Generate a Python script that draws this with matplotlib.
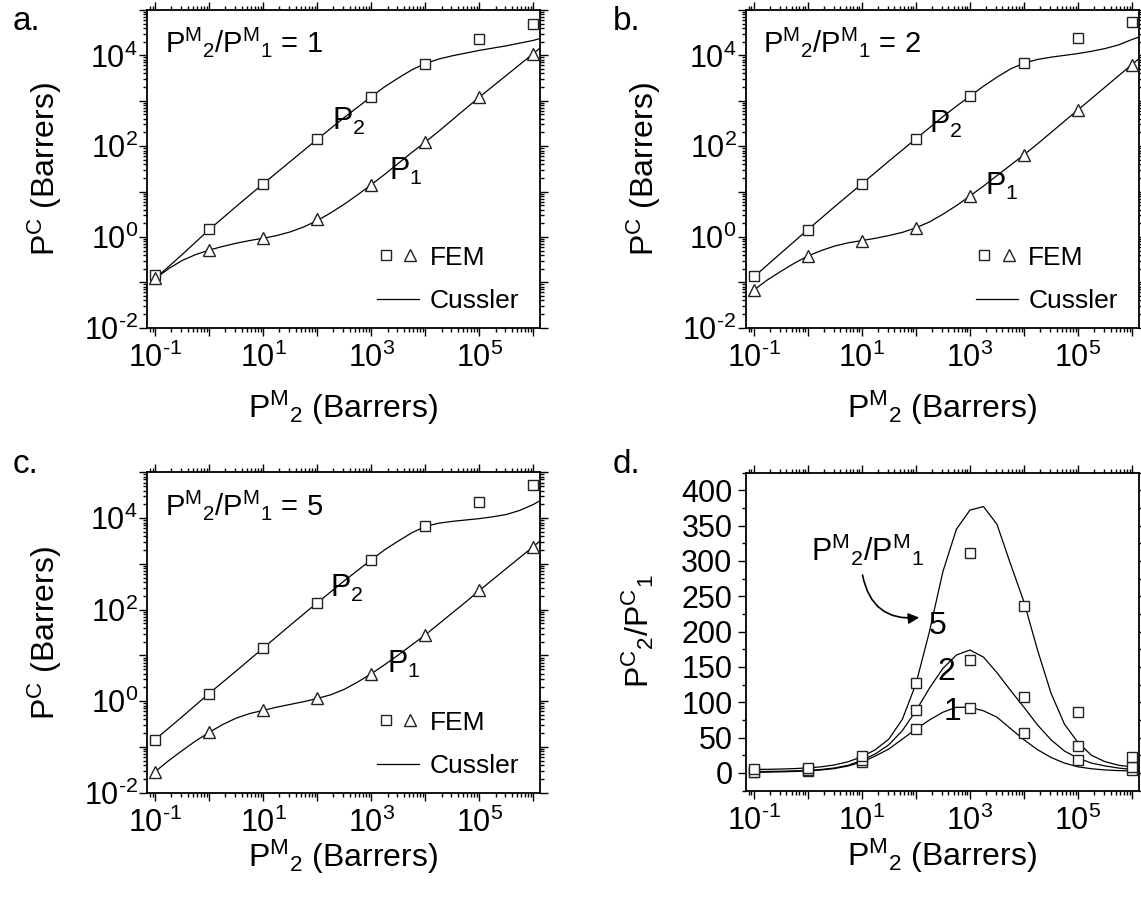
import numpy as np
import matplotlib
matplotlib.use("Agg")
import matplotlib.pyplot as plt
from matplotlib.lines import Line2D
from matplotlib.legend_handler import HandlerTuple
from matplotlib.ticker import LogLocator, FuncFormatter, MultipleLocator

plt.rcParams["font.family"] = ["Liberation Sans", "DejaVu Sans"]
plt.rcParams["mathtext.fontset"] = "custom"
plt.rcParams["mathtext.rm"] = "Liberation Sans"
plt.rcParams["mathtext.it"] = "Liberation Sans"
plt.rcParams["mathtext.default"] = "regular"

# ─── data ────────────────────────────────────────────────────────────────────
PM2 = [0.1, 1, 10, 100, 1e3, 1e4, 1e5, 1e6]

# FEM points, composite permeability (Barrers)
FEM_P2_R1 = [0.145, 1.48, 14.8, 141, 1230, 6600, 23400, 50000]
FEM_P1_R1 = [0.125, 0.51, 0.93, 2.45, 14, 122, 1240, 10500]
FEM_P2_R2 = [0.14, 1.45, 14.8, 145, 1250, 6800, 24000, 53000]
FEM_P1_R2 = [0.067, 0.38, 0.81, 1.6, 7.9, 64, 630, 6000]
FEM_P2_R5 = [0.145, 1.47, 14.4, 140, 1230, 6600, 23000, 53000]
FEM_P1_R5 = [0.029, 0.21, 0.63, 1.15, 4.0, 28, 275, 2400]

# Cussler model curves, P^M_2 grid
X_CUSSLER = [0.1, 0.178, 0.316, 0.562, 1, 1.78, 3.16, 5.62, 10, 17.8, 31.6, 56.2,
             100, 178, 316, 562, 1e3, 1.78e3, 3.16e3, 5.62e3, 1e4, 1.78e4, 3.16e4,
             5.62e4, 1e5, 1.78e5, 3.16e5, 5.62e5, 1e6, 1.32e6]

# log10 of P^C
LOG_CUS_P2_R1 = [-0.92, -0.655, -0.39, -0.115, 0.16, 0.415, 0.67, 0.92, 1.17, 1.415,
                 1.66, 1.905, 2.15, 2.39, 2.63, 2.86, 3.09, 3.31, 3.50, 3.68, 3.82,
                 3.92, 3.99, 4.05, 4.11, 4.16, 4.21, 4.27, 4.33, 4.37]
LOG_CUS_P1_R1 = [-0.92, -0.70, -0.52, -0.39, -0.29, -0.21, -0.14, -0.08, -0.03, 0.03,
                 0.11, 0.22, 0.36, 0.53, 0.72, 0.93, 1.15, 1.38, 1.62, 1.86, 2.09,
                 2.33, 2.58, 2.83, 3.08, 3.32, 3.56, 3.80, 4.04, 4.16]
LOG_CUS_P2_R2 = [-0.88, -0.62, -0.36, -0.10, 0.16, 0.415, 0.67, 0.92, 1.17, 1.42,
                 1.67, 1.915, 2.16, 2.405, 2.65, 2.88, 3.10, 3.32, 3.52, 3.70, 3.83,
                 3.91, 3.96, 4.00, 4.04, 4.09, 4.15, 4.23, 4.35, 4.40]
LOG_CUS_P1_R2 = [-1.17, -0.95, -0.76, -0.58, -0.42, -0.30, -0.20, -0.13, -0.08, -0.03,
                 0.03, 0.10, 0.20, 0.33, 0.50, 0.69, 0.90, 1.12, 1.35, 1.58, 1.81,
                 2.05, 2.30, 2.55, 2.80, 3.05, 3.30, 3.55, 3.80, 3.92]
LOG_CUS_P2_R5 = [-0.84, -0.59, -0.34, -0.085, 0.17, 0.415, 0.66, 0.91, 1.16, 1.41,
                 1.66, 1.905, 2.15, 2.39, 2.63, 2.86, 3.09, 3.31, 3.50, 3.68, 3.82,
                 3.89, 3.93, 3.96, 3.99, 4.03, 4.08, 4.17, 4.30, 4.38]
LOG_CUS_P1_R5 = [-1.54, -1.30, -1.08, -0.87, -0.68, -0.51, -0.37, -0.27, -0.20, -0.13,
                 -0.07, -0.01, 0.06, 0.14, 0.26, 0.42, 0.60, 0.80, 1.01, 1.23, 1.45,
                 1.69, 1.93, 2.17, 2.42, 2.66, 2.90, 3.14, 3.38, 3.50]

# panel d: selectivity P^C_2/P^C_1
SEL_FEM_R1 = [1.2, 2.9, 16, 62, 92, 57, 19, 4.8]
SEL_FEM_R2 = [2.1, 3.8, 18, 89, 160, 108, 38, 8.8]
SEL_FEM_R5 = [5.0, 7.0, 24, 127, 312, 237, 87, 23]

SEL_CUS_R1 = [1.0, 1.2, 1.6, 2.2, 3.0, 4.3, 6.3, 10, 15.5, 24, 34, 48, 62, 75, 86, 93,
              93, 88, 79, 63, 47, 33, 22, 14, 8.7, 6.0, 4.3, 3.4, 2.9, 2.8]
SEL_CUS_R2 = [2.0, 2.2, 2.5, 3.0, 3.8, 5.0, 7.2, 11, 18, 27, 40, 60, 88, 120, 148, 167,
              174, 164, 142, 117, 93, 68, 47, 31, 21, 14, 10, 7, 5, 4.6]
SEL_CUS_R5 = [5.0, 5.2, 5.6, 6.2, 7.2, 8.8, 11.5, 16, 23, 33, 48, 76, 126, 200, 285, 345,
              372, 377, 352, 296, 242, 174, 113, 69, 43, 25, 16, 11, 8.5, 7.5]

RATIOS = ["1", "2", "5"]

# ─── style ───────────────────────────────────────────────────────────────────
TICK_FS = 22
LABEL_FS = 23
EDGE = "#222222"
SQ = dict(marker="s", ms=7, mfc="white", mec=EDGE, mew=1.0, ls="none", clip_on=False, zorder=3)
TRI = dict(marker="^", ms=8.5, mfc="white", mec=EDGE, mew=1.0, ls="none", clip_on=False, zorder=3)
LINE = dict(color="black", lw=0.9, zorder=2)


def fmt_exp(parity):
    def f(v, pos):
        e = int(round(np.log10(v)))
        return rf"$10^{{\text{{{e}}}}}$" if e % 2 == parity else ""
    return f


def base_style(ax):
    for s in ax.spines.values():
        s.set_linewidth(1.3)
    ax.tick_params(which="both", direction="out", top=True, right=True,
                   labelsize=TICK_FS, width=1.0)
    ax.tick_params(which="major", length=5.5)
    ax.tick_params(which="minor", length=3)
    ax.tick_params(axis="x", pad=5)


def log_x(ax):
    ax.set_xscale("log")
    ax.set_xlim(0.0708, 1.32e6)
    ax.xaxis.set_major_locator(LogLocator(base=10, numticks=30))
    ax.xaxis.set_minor_locator(LogLocator(base=10, subs=np.arange(2, 10), numticks=30))
    ax.xaxis.set_major_formatter(FuncFormatter(fmt_exp(1)))


fig = plt.figure(figsize=(11.41, 9.06), dpi=100)
fig.patch.set_facecolor("white")

pos_abc = [
    [0.1288, 0.6383, 0.3444, 0.3507],
    [0.6535, 0.6383, 0.3444, 0.3507],
    [0.1288, 0.1250, 0.3444, 0.3536],
]
fem = [(FEM_P2_R1, FEM_P1_R1), (FEM_P2_R2, FEM_P1_R2), (FEM_P2_R5, FEM_P1_R5)]
cus = [(LOG_CUS_P2_R1, LOG_CUS_P1_R1), (LOG_CUS_P2_R2, LOG_CUS_P1_R2),
       (LOG_CUS_P2_R5, LOG_CUS_P1_R5)]
p2_lab = [(190, 230), (175, 200), (170, 195)]
p1_lab = [(2100, 18), (1900, 8.3), (1950, 4.2)]
xlab_y = [-0.193, -0.193, -0.14]

for i in range(3):
    ax = fig.add_axes(pos_abc[i])
    base_style(ax)
    log_x(ax)
    ax.set_yscale("log")
    ax.set_ylim(1e-2, 1e5)
    ax.yaxis.set_major_locator(LogLocator(base=10, numticks=30))
    ax.yaxis.set_minor_locator(LogLocator(base=10, subs=np.arange(2, 10), numticks=30))
    ax.yaxis.set_major_formatter(FuncFormatter(fmt_exp(0)))
    ax.tick_params(axis="y", pad=1)

    c2, c1 = cus[i]
    ax.plot(X_CUSSLER, 10 ** np.array(c2), **LINE)
    ax.plot(X_CUSSLER, 10 ** np.array(c1), **LINE)
    f2, f1 = fem[i]
    ax.plot(PM2, f2, **SQ)
    ax.plot(PM2, f1, **TRI)

    ax.text(0.045, 0.867, r"$P^{M}{}_{2}/P^{M}{}_{1}$ = " + RATIOS[i],
            transform=ax.transAxes, fontsize=21, va="baseline", ha="left")
    ax.text(*p2_lab[i], r"P$_{2}$", fontsize=22, va="baseline", ha="left")
    ax.text(*p1_lab[i], r"P$_{1}$", fontsize=22, va="baseline", ha="left")

    h_sq = Line2D([], [], **{k: v for k, v in SQ.items() if k != "clip_on"})
    h_tri = Line2D([], [], **{k: v for k, v in TRI.items() if k != "clip_on"})
    h_line = Line2D([], [], **LINE)
    ax.legend([(h_sq, h_tri), h_line], ["FEM", "Cussler"],
              handler_map={tuple: HandlerTuple(ndivide=None, pad=0.25)},
              loc="lower left", bbox_to_anchor=(0.585, 0.045), frameon=False,
              fontsize=19, handlelength=1.6, handletextpad=0.4, labelspacing=0.75,
              borderpad=0, borderaxespad=0)

    ax.set_ylabel(r"$P^{C}$ (Barrers)", fontsize=LABEL_FS, labelpad=14)
    ax.set_xlabel(r"$P^{M}{}_{2}$ (Barrers)", fontsize=LABEL_FS)
    ax.xaxis.set_label_coords(0.5, xlab_y[i])

# panel d
ax = fig.add_axes([0.6535, 0.1273, 0.3444, 0.351])
base_style(ax)
log_x(ax)
ax.set_ylim(-25, 425)
ax.yaxis.set_major_locator(MultipleLocator(50))
ax.yaxis.set_minor_locator(MultipleLocator(25))
ax.tick_params(axis="y", pad=4)
for sel in (SEL_CUS_R1, SEL_CUS_R2, SEL_CUS_R5):
    ax.plot(X_CUSSLER, sel, **LINE)
for sel in (SEL_FEM_R1, SEL_FEM_R2, SEL_FEM_R5):
    ax.plot(PM2, sel, **SQ)

ax.text(1.15, 300, r"$P^{M}{}_{2}/P^{M}{}_{1}$", fontsize=22, va="baseline", ha="left")
ax.text(171, 197, "5", fontsize=23, va="baseline", ha="left")
ax.text(248, 131, "2", fontsize=23, va="baseline", ha="left")
ax.text(330, 75, "1", fontsize=23, va="baseline", ha="left")
ax.annotate("", xy=(115, 220), xytext=(10.3, 280),
            arrowprops=dict(arrowstyle="-|>", connectionstyle="arc3,rad=0.45",
                            color="black", lw=1.2, mutation_scale=16,
                            shrinkA=0, shrinkB=0))
ax.set_ylabel(r"$P^{C}{}_{2}/P^{C}{}_{1}$", fontsize=LABEL_FS, labelpad=18)
ax.set_xlabel(r"$P^{M}{}_{2}$ (Barrers)", fontsize=LABEL_FS)
ax.xaxis.set_label_coords(0.5, -0.145)

# panel letters
for lab, (x, y) in zip(["a.", "b.", "c.", "d."],
                       [(0.0114, 0.967), (0.537, 0.967), (0.0114, 0.478), (0.537, 0.478)]):
    fig.text(x, y, lab, fontsize=24, va="baseline", ha="left")

fig.savefig("out.png", dpi=100)
